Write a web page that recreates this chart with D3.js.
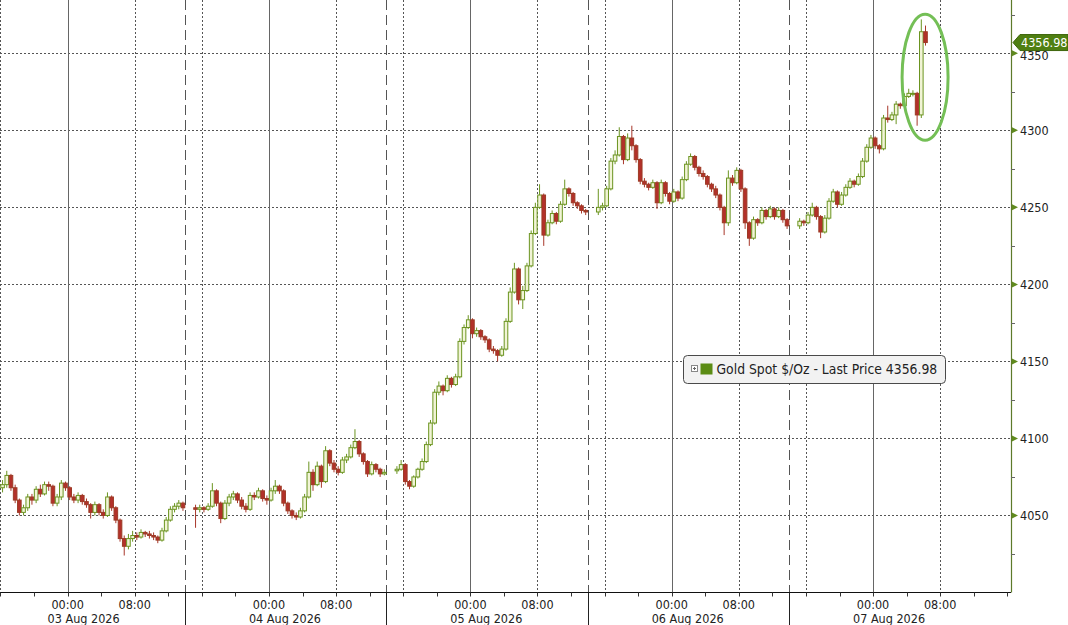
<!DOCTYPE html>
<html><head><meta charset="utf-8">
<script src="https://cdn.jsdelivr.net/npm/d3@7"></script>
<style>
html,body{margin:0;padding:0;background:#fff;}
svg{display:block;}
text{font-family:"DejaVu Sans Condensed","DejaVu Sans",sans-serif;}
</style></head>
<body>
<svg id="chart" width="1068" height="625"></svg>
<script>
// ---------- DATA (30-minute OHLC bars; open = previous close within a session) ----------
const sessionStarts = ["2026-08-02T16:00:00Z","2026-08-03T15:00:00Z","2026-08-04T15:00:00Z","2026-08-05T15:00:00Z","2026-08-06T15:00:00Z"];
const sessionOpens = [4068, 4055, 4079, 4247, 4238];

const closes1 = [4070,4076,4068,4060,4052,4055,4062,4060,4067,4064,4070,4069,4058,4062,4071,4068,4062,4060,4063,4059,4057,4052,4057,4052,4050,4062,4055,4047,4035,4030,4035,4037,4036,4039,4038,4037,4036,4034,4040,4047,4054,4056,4058,4055];
const highs1  = [4073,4079,4077,4070,4061,4057,4064,4064,4069,4070,4072,4072,4070,4064,4073,4072,4069,4064,4065,4064,4061,4058,4059,4058,4054,4065,4063,4056,4048,4037,4038,4040,4039,4041,4040,4040,4039,4037,4042,4049,4056,4058,4060,4059];
const lows1   = [4065,4068,4066,4058,4050,4050,4053,4057,4058,4062,4063,4066,4056,4056,4060,4066,4060,4058,4058,4057,4055,4048,4050,4050,4048,4049,4053,4045,4033,4024,4028,4033,4034,4035,4036,4035,4034,4032,4033,4039,4046,4052,4054,4053];

const closes2 = [4054,4055,4054,4056,4066,4058,4048,4058,4062,4064,4060,4056,4054,4063,4062,4066,4061,4060,4066,4069,4066,4058,4053,4050,4049,4053,4062,4078,4070,4082,4072,4092,4084,4080,4078,4086,4088,4094,4098,4090,4085,4077,4083,4080,4077,4078];
const highs2  = [4057,4057,4056,4058,4071,4067,4059,4060,4064,4066,4065,4062,4058,4065,4065,4068,4067,4063,4068,4073,4070,4067,4059,4054,4052,4055,4064,4085,4080,4085,4083,4095,4093,4086,4082,4088,4090,4096,4106,4099,4091,4086,4085,4084,4081,4080];
const lows2   = [4042,4052,4052,4053,4055,4056,4045,4047,4056,4060,4058,4054,4052,4053,4060,4061,4059,4057,4059,4064,4064,4056,4051,4048,4047,4048,4052,4061,4066,4069,4068,4071,4082,4078,4076,4077,4084,4087,4093,4088,4083,4075,4076,4078,4075,4076];

const closes3 = [4080,4083,4072,4069,4075,4080,4085,4096,4110,4130,4134,4131,4139,4135,4140,4163,4172,4177,4168,4170,4166,4164,4158,4157,4154,4158,4176,4195,4210,4190,4196,4212,4233,4250,4258,4232,4240,4246,4241,4252,4262,4259,4253,4251,4248,4247];
const highs3  = [4082,4086,4084,4073,4076,4081,4087,4098,4112,4132,4137,4135,4141,4140,4142,4165,4174,4180,4178,4172,4171,4167,4165,4160,4158,4160,4178,4198,4214,4211,4199,4214,4235,4253,4265,4259,4242,4248,4247,4254,4268,4263,4260,4254,4252,4249];
const lows3   = [4077,4079,4070,4067,4068,4074,4079,4084,4095,4109,4128,4128,4130,4133,4134,4139,4161,4171,4165,4166,4164,4162,4156,4155,4150,4153,4157,4175,4194,4187,4184,4195,4211,4232,4249,4225,4231,4239,4239,4240,4251,4257,4251,4249,4246,4245];

const closes4 = [4250,4251,4262,4280,4284,4296,4281,4295,4290,4281,4267,4265,4263,4266,4253,4266,4259,4254,4260,4256,4268,4278,4283,4276,4272,4270,4265,4262,4258,4250,4240,4269,4266,4274,4262,4240,4230,4242,4240,4248,4244,4249,4244,4248,4242,4238];
const highs4  = [4262,4253,4264,4282,4287,4302,4297,4298,4303,4291,4282,4269,4266,4268,4267,4268,4267,4260,4262,4261,4270,4280,4285,4284,4277,4274,4271,4266,4264,4259,4251,4274,4271,4276,4275,4263,4241,4244,4243,4250,4249,4251,4250,4250,4249,4243];
const lows4   = [4245,4248,4250,4261,4278,4283,4278,4280,4287,4279,4265,4263,4261,4262,4249,4252,4257,4252,4253,4254,4255,4267,4277,4274,4270,4268,4263,4260,4256,4248,4232,4238,4264,4265,4260,4236,4225,4229,4238,4239,4242,4243,4242,4243,4240,4236];

const closes5 = [4241,4240,4245,4250,4244,4234,4243,4254,4260,4252,4258,4263,4267,4265,4270,4280,4289,4295,4290,4288,4308,4307,4310,4317,4316,4322,4324,4324,4310,4364,4356.98];
const highs5  = [4243,4242,4247,4253,4251,4245,4245,4256,4262,4261,4260,4265,4269,4268,4272,4282,4291,4297,4296,4291,4310,4316,4312,4319,4318,4324,4327,4326,4325,4372,4368];
const lows5   = [4236,4238,4239,4244,4242,4230,4233,4242,4253,4250,4251,4257,4262,4263,4264,4269,4279,4288,4288,4285,4287,4305,4306,4304,4314,4315,4321,4322,4303,4308,4355];

const yTicks = [4050,4100,4150,4200,4250,4300,4350];
const yMinorTicks = [4025,4075,4125,4175,4225,4275,4325,4375];
const lastPrice = 4356.98;
const legendLabel = "Gold Spot $/Oz - Last Price 4356.98";
const timeDomain = ["2026-08-02T15:56:36Z","2026-08-07T16:26:24Z"];
const gridEnd = "2026-08-07T10:00:00Z";
const priceDomain = [4000, 4384.6];
const annotation = {time:"2026-08-07T06:12:00Z", price:4334.5};

// ---------- BUILD BARS ----------
const sessions = [
  {c:closes1,h:highs1,l:lows1},{c:closes2,h:highs2,l:lows2},{c:closes3,h:highs3,l:lows3},
  {c:closes4,h:highs4,l:lows4},{c:closes5,h:highs5,l:lows5}];
const bars = [];
sessions.forEach((s,si)=>{
  const t0 = new Date(sessionStarts[si]).getTime();
  s.c.forEach((c,i)=>{
    bars.push({t:new Date(t0 + i*30*60000 + 15*60000), o: i===0?sessionOpens[si]:s.c[i-1], h:s.h[i], l:s.l[i], c:c});
  });
});

// ---------- LAYOUT ----------
const W=1068, H=625;
const plotR = 1011, plotB = 592.5;
const svg = d3.select("#chart");
const x = d3.scaleUtc().domain(timeDomain.map(d=>new Date(d))).range([0, plotR]);
const y = d3.scaleLinear().domain(priceDomain).range([plotB, 0]);

const g = svg.append("g");

// horizontal gridlines
g.selectAll(".hg").data(yTicks).join("line")
  .attr("x1",0).attr("x2",plotR).attr("y1",d=>Math.round(y(d))+0.5).attr("y2",d=>Math.round(y(d))+0.5)
  .attr("stroke","#555").attr("stroke-width",1).attr("stroke-dasharray","2,2");

// vertical gridlines
const hours = d3.utcHour.every(1).range(x.domain()[0], new Date(gridEnd));
const vMid = hours.filter(d=>d.getUTCHours()===0);
const vDot = hours.filter(d=>d.getUTCHours()===8 || d.getUTCHours()===16);
const vSess = hours.filter(d=>d.getUTCHours()===14);
const px = d=>Math.round(x(d))+0.5;
g.selectAll(".vm").data(vMid).join("line")
  .attr("x1",px).attr("x2",px).attr("y1",0).attr("y2",plotB)
  .attr("stroke","#666").attr("stroke-width",1);
g.selectAll(".vd").data(vDot).join("line")
  .attr("x1",px).attr("x2",px).attr("y1",0).attr("y2",plotB)
  .attr("stroke","#555").attr("stroke-width",1).attr("stroke-dasharray","2,2");
g.selectAll(".vs").data(vSess).join("line")
  .attr("x1",px).attr("x2",px).attr("y1",0).attr("y2",plotB)
  .attr("stroke","#555").attr("stroke-width",1).attr("stroke-dasharray","10,5");
g.selectAll(".vsb").data(vSess).join("line")
  .attr("x1",px).attr("x2",px).attr("y1",plotB).attr("y2",H)
  .attr("stroke","#222").attr("stroke-width",1);

// candles
const bw = 3.6;
const cg = g.append("g");
cg.selectAll(".wick").data(bars).join("line")
  .attr("x1",d=>x(d.t)).attr("x2",d=>x(d.t))
  .attr("y1",d=>y(d.h)).attr("y2",d=>y(d.l))
  .attr("stroke",d=>d.c>=d.o?"#6b9420":"#a8372a").attr("stroke-width",1);
cg.selectAll(".body").data(bars).join("rect")
  .attr("x",d=>x(d.t)-bw/2).attr("width",bw)
  .attr("y",d=>y(Math.max(d.o,d.c))).attr("height",d=>Math.max(1,Math.abs(y(d.o)-y(d.c))))
  .attr("fill",d=>d.c>=d.o?"#f1f4d6":"#b3302a")
  .attr("stroke",d=>d.c>=d.o?"#6b9420":"#9c3b25").attr("stroke-width",1);

// x axis
g.append("line").attr("x1",0).attr("x2",plotR).attr("y1",plotB).attr("y2",plotB).attr("stroke","#111").attr("stroke-width",1.2);
const ticks4 = d3.utcHour.every(4).range(x.domain()[0], x.domain()[1]);
g.selectAll(".xt").data(ticks4).join("line")
  .attr("x1",px).attr("x2",px).attr("y1",plotB).attr("y2",plotB+4)
  .attr("stroke","#333");
const fmtH = d3.utcFormat("%H:%M");
const labH = ticks4.filter(d=>d.getUTCHours()===0||d.getUTCHours()===8);
g.selectAll(".xl").data(labH).join("text")
  .attr("x",d=>x(d)).attr("y",608.5).attr("text-anchor","middle")
  .attr("font-size","12.5px").attr("fill","#222").text(d=>fmtH(d));
const fmtD = d3.utcFormat("%d %b %Y");
g.selectAll(".xd").data(vMid).join("text")
  .attr("x",d=>x(d)+16).attr("y",623).attr("text-anchor","middle")
  .attr("font-size","12.5px").attr("fill","#222").text(d=>fmtD(d));

// right axis
g.append("line").attr("x1",plotR+0.5).attr("x2",plotR+0.5).attr("y1",0).attr("y2",plotB).attr("stroke","#5d7a2a").attr("stroke-width",1.2);
g.selectAll(".ymt").data(yMinorTicks).join("line")
  .attr("x1",plotR).attr("x2",plotR+4).attr("y1",d=>Math.round(y(d))+0.5).attr("y2",d=>Math.round(y(d))+0.5)
  .attr("stroke","#666");
g.selectAll(".ytri").data(yTicks).join("path")
  .attr("d",d=>{const yy=y(d);return `M${plotR+1},${yy-3}L${plotR+7},${yy}L${plotR+1},${yy+3}Z`;})
  .attr("fill","#5f8a1e");
g.selectAll(".yl").data(yTicks).join("text")
  .attr("x",plotR+9).attr("y",d=>y(d)+(d===4350?2:0)).attr("dy","0.36em")
  .attr("font-size","12.5px").attr("fill","#222").text(d=>d);

// last price tag
const ly = y(lastPrice);
g.append("path")
  .attr("d",`M${plotR+2},${ly}L${plotR+9},${ly-8}L${W},${ly-8}L${W},${ly+8}L${plotR+9},${ly+8}Z`)
  .attr("fill","#4f7f12").attr("stroke","#3d650b").attr("stroke-width",1);
g.append("text").attr("x",plotR+10).attr("y",ly).attr("dy","0.36em")
  .attr("font-size","12.5px").attr("fill","#fff").text(d3.format(".2f")(lastPrice));

// annotation ellipse
g.append("ellipse")
  .attr("cx",x(new Date(annotation.time))).attr("cy",y(annotation.price))
  .attr("rx",23).attr("ry",63)
  .attr("fill","none").attr("stroke","#74bf56").attr("stroke-width",3);

// legend
const lg = g.append("g").attr("transform","translate(683.5,355.5)");
lg.append("rect").attr("width",262).attr("height",28).attr("rx",4)
  .attr("fill","#f2f2f2").attr("stroke","#4a4a4a").attr("stroke-width",1);
lg.append("rect").attr("x",8).attr("y",10).attr("width",6).attr("height",6).attr("fill","#fff").attr("stroke","#888");
lg.append("line").attr("x1",9.5).attr("x2",12.5).attr("y1",13).attr("y2",13).attr("stroke","#666");
lg.append("line").attr("x1",11).attr("x2",11).attr("y1",11.5).attr("y2",14.5).attr("stroke","#666");
lg.append("rect").attr("x",17).attr("y",8).attr("width",12).attr("height",11).attr("fill","#5b8c14");
lg.append("text").attr("x",33).attr("y",14).attr("dy","0.36em")
  .attr("font-size","13.8px").attr("fill","#222").text(legendLabel);
</script>
</body></html>
